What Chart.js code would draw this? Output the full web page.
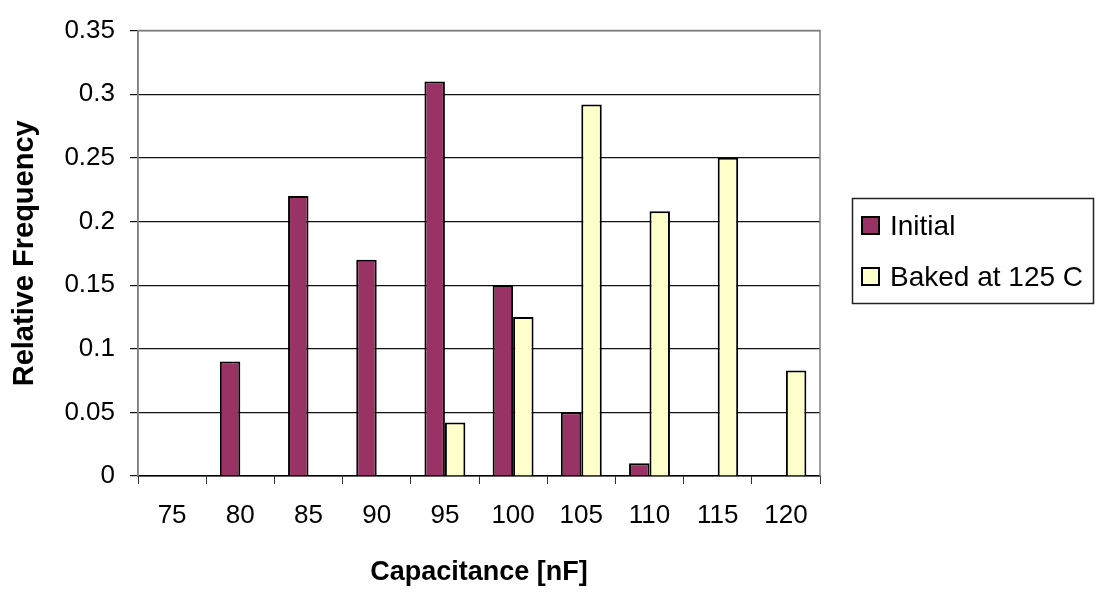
<!DOCTYPE html>
<html>
<head>
<meta charset="utf-8">
<script src="https://cdn.jsdelivr.net/npm/chart.js@4.4.1/dist/chart.umd.min.js"></script>
<style>
  html, body { margin: 0; padding: 0; background: #fff; }
  #wrap { width: 1096px; height: 592px; position: relative; }
</style>
</head>
<body>
<div id="wrap"><canvas id="chart"></canvas></div>
<script>
// data
const capacitance = ['75', '80', '85', '90', '95', '100', '105', '110', '115', '120'];
const initial = [0, 0.09, 0.22, 0.17, 0.31, 0.15, 0.05, 0.01, 0, 0];
const baked = [0, 0, 0, 0, 0.042, 0.125, 0.292, 0.208, 0.25, 0.083];
const yTicks = [0, 0.05, 0.1, 0.15, 0.2, 0.25, 0.3, 0.35];

const FONT = '"Liberation Sans", Arial, sans-serif';

// grey frame round the plot area, drawn over the grid but under the bars
const plotFrame = {
    id: 'plotFrame',
    beforeDatasetsDraw(chart) {
        const {ctx, chartArea: a} = chart;
        ctx.save();
        ctx.strokeStyle = '#808080';
        ctx.lineWidth = 1.5;
        ctx.beginPath();
        ctx.moveTo(a.left, a.bottom);
        ctx.lineTo(a.left, a.top);
        ctx.lineTo(a.right, a.top);
        ctx.lineTo(a.right, a.bottom);
        ctx.stroke();
        ctx.restore();
    }
};

// boxed legend on the right, like the Excel one
const boxLegend = {
    id: 'boxLegend',
    afterDraw(chart) {
        const ctx = chart.ctx;
        ctx.save();
        ctx.strokeStyle = '#222';
        ctx.lineWidth = 1.5;
        ctx.strokeRect(852.5, 198.5, 241, 105);
        ctx.font = '28px ' + FONT;
        ctx.textBaseline = 'middle';
        chart.data.datasets.forEach((ds, i) => {
            const y = 226 + i * 51;
            ctx.fillStyle = ds.backgroundColor;
            ctx.fillRect(862, y - 9, 17, 17);
            ctx.strokeStyle = '#000';
            ctx.lineWidth = 2;
            ctx.strokeRect(862, y - 9, 17, 17);
            ctx.fillStyle = '#000';
            ctx.fillText(ds.label, 890, y + 1);
        });
        ctx.restore();
    }
};

const ctx = document.getElementById('chart');
new Chart(ctx, {
    type: 'bar',
    data: {
        labels: capacitance,
        datasets: [{
            label: 'Initial',
            data: initial,
            backgroundColor: '#993366',
            borderColor: '#000',
            borderWidth: 2,
            borderSkipped: 'start'
        },
        {
            label: 'Baked at 125 C',
            data: baked,
            backgroundColor: '#FFFFCC',
            borderColor: '#000',
            borderWidth: 2,
            borderSkipped: 'start'
        }]
    },
    options: {
        responsive: true,
        maintainAspectRatio: false,
        animation: false,
        devicePixelRatio: 1,
        categoryPercentage: 0.6,
        barPercentage: 1,
        layout: {
            padding: { top: 25, right: 276, bottom: 0, left: 0 }
        },
        plugins: {
            legend: { display: false },
            tooltip: { enabled: false }
        },
        scales: {
            x: {
                afterFit(s) { s.height = 116; },
                grid: {
                    offset: true,
                    drawOnChartArea: false,
                    tickLength: 8,
                    color: '#333'
                },
                border: { color: '#000', width: 1.5 },
                ticks: {
                    color: '#000',
                    padding: 16,
                    font: { family: FONT, size: 26 }
                },
                title: {
                    display: true,
                    text: 'Capacitance [nF]',
                    color: '#000',
                    padding: { top: 0, bottom: 3 },
                    font: { family: FONT, size: 27, weight: 'bold' }
                }
            },
            y: {
                min: 0,
                max: 0.35,
                afterFit(s) { s.width = 138; },
                afterBuildTicks(s) { s.ticks = yTicks.map(v => ({ value: v })); },
                grid: {
                    color: '#111',
                    lineWidth: 1.2,
                    tickLength: 8
                },
                border: { color: '#808080', width: 1.5 },
                ticks: {
                    color: '#000',
                    padding: 15,
                    font: { family: FONT, size: 26 },
                    callback: v => String(+v.toFixed(2))
                },
                title: {
                    display: true,
                    text: 'Relative Frequency',
                    color: '#000',
                    padding: { top: 8, bottom: 0 },
                    font: { family: FONT, size: 29, weight: 'bold' }
                }
            }
        }
    },
    plugins: [plotFrame, boxLegend]
});
</script>
</body>
</html>
